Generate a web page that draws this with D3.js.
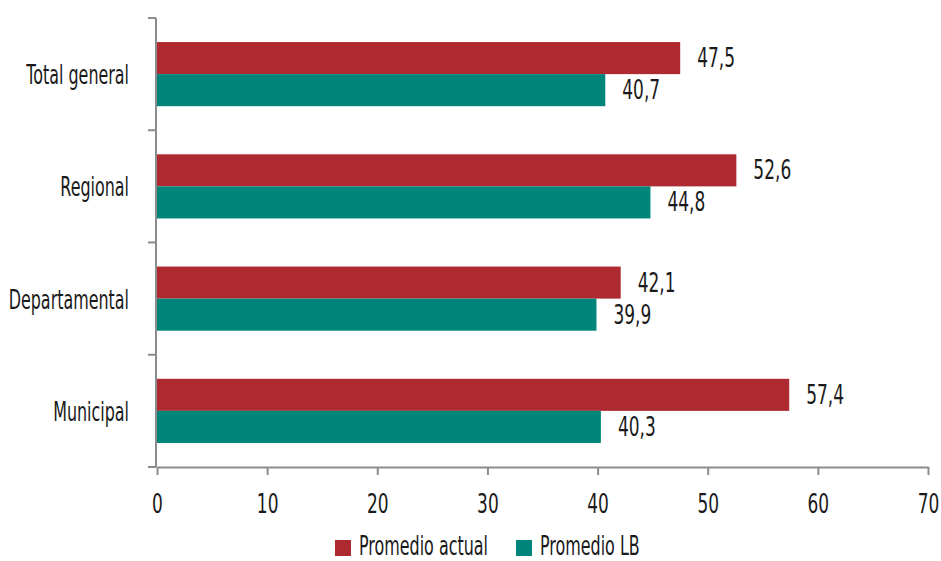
<!DOCTYPE html>
<html>
<head>
<meta charset="utf-8">
<script src="https://cdn.jsdelivr.net/npm/d3@7"></script>
<style>
  html, body { margin: 0; padding: 0; background: #fff; }
  svg text { font-family: "DejaVu Sans", sans-serif; fill: #1a1a1a; }
</style>
</head>
<body>
<svg id="chart" width="941" height="561"></svg>
<script>
// Categories, top to bottom
const categories = ["Total general", "Regional", "Departamental", "Municipal"];
// Series values per category
const promedioActual = [47.5, 52.6, 42.1, 57.4];
const promedioLB = [40.7, 44.8, 39.9, 40.3];
const seriesNames = ["Promedio actual", "Promedio LB"];
const seriesColors = ["#ae2a31", "#00857a"];
const xTicks = [0, 10, 20, 30, 40, 50, 60, 70];

const svg = d3.select("#chart");
const margin = { left: 157, right: 13, top: 18, bottom: 94 };
const W = 941, H = 561;
const FS = 27;        // font size
const SX = 0.59;      // horizontal condensing of the typeface

const x = d3.scaleLinear().domain([0, 70]).range([margin.left, W - margin.right]);
const y = d3.scaleBand().domain(categories).range([margin.top, H - margin.bottom]);
const inner = d3.scaleBand().domain(seriesNames)
  .range([0, y.bandwidth()]).paddingInner(0).paddingOuter(0.75);

const series = [promedioActual, promedioLB];
const rows = categories.map((c, i) => ({ cat: c, vals: series.map(s => s[i]) }));

const fmt = v => d3.format(".1f")(v).replace(".", ",");

// condensed text helper: place at (px, py) and squeeze horizontally
function ctext(parent, px, py, str, anchor, sx) {
  return parent.append("text")
    .attr("transform", `translate(${px},${py}) scale(${sx || SX},1)`)
    .attr("text-anchor", anchor || "start")
    .attr("font-size", FS)
    .text(str);
}

// Bars and value labels
const g = svg.append("g");
rows.forEach(r => {
  r.vals.forEach((v, j) => {
    const by = y(r.cat) + inner(seriesNames[j]);
    g.append("rect")
      .attr("x", x(0))
      .attr("y", by)
      .attr("width", x(v) - x(0))
      .attr("height", inner.bandwidth())
      .attr("fill", seriesColors[j]);
    ctext(g, x(v) + 17, by + inner.bandwidth() / 2 + 9, fmt(v), "start", 0.63);
  });
});

// Axes
const axisColor = "#8c8c8c";
svg.append("line")
  .attr("x1", x(0) - 1).attr("x2", x(0) - 1)
  .attr("y1", y.range()[0]).attr("y2", y.range()[1])
  .attr("stroke", axisColor).attr("stroke-width", 2);
// Category boundary ticks
const bounds = categories.map(c => y(c)).concat([y.range()[1]]);
svg.append("g").selectAll("line").data(bounds).join("line")
  .attr("x1", x(0) - 9).attr("x2", x(0) - 1)
  .attr("y1", d => d).attr("y2", d => d)
  .attr("stroke", axisColor).attr("stroke-width", 2);

// Category labels
const catG = svg.append("g");
categories.forEach(c => ctext(catG, 129, y(c) + y.bandwidth() / 2 + 10, c, "end"));

const xAxis = svg.append("g")
  .attr("transform", `translate(0,${y.range()[1]})`)
  .call(d3.axisBottom(x).tickValues(xTicks).tickSize(8).tickSizeOuter(0));
xAxis.attr("font-family", null).attr("font-size", null);
xAxis.select(".domain").attr("stroke", axisColor).attr("stroke-width", 2);
xAxis.selectAll(".tick line").attr("stroke", axisColor).attr("stroke-width", 2);
xAxis.selectAll(".tick text")
  .attr("y", 0).attr("dy", null)
  .attr("transform", `translate(0,46) scale(0.63,1)`)
  .attr("font-size", FS)
  .style("fill", "#1a1a1a");

// Legend
const legend = svg.append("g");
const legendX = [335, 516];
seriesNames.forEach((name, i) => {
  legend.append("rect").attr("x", legendX[i]).attr("y", 540).attr("width", 16).attr("height", 16)
    .attr("fill", seriesColors[i]);
  ctext(legend, legendX[i] + 24, 555, name);
});
</script>
</body>
</html>
